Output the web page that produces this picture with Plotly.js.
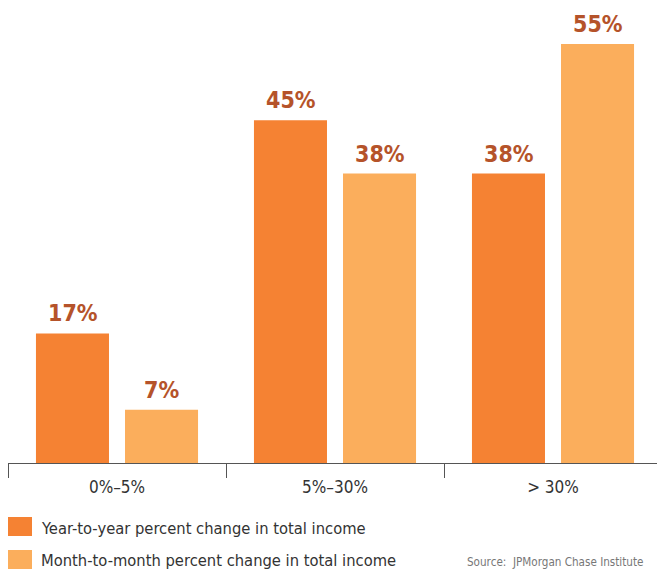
<!DOCTYPE html>
<html>
<head>
<meta charset="utf-8">
<script src="https://cdn.plot.ly/plotly-3.0.1.min.js"></script>
<style>html,body{margin:0;padding:0;background:#fff;}#chart{width:657px;height:571px;}</style>
</head>
<body>
<div id="chart"></div>
<script>
const categories = ["0%\u20135%", "5%\u201330%", "> 30%"];
const seriesNames = ["Year-to-year percent change in total income", "Month-to-month percent change in total income"];
const yearToYear = [17, 45, 38];
const monthToMonth = [7, 38, 55];
const sourceText = "Source:  JPMorgan Chase Institute";

const colors = ["#f58233", "#fbae5c"];
const labelColor = "#b5532a";
const FONT = "DejaVu Sans Condensed, Liberation Sans Narrow, sans-serif";
const W = 657, H = 571;
const M = {l: 8, r: 0, t: 0, b: 108};
const pw = W - M.l - M.r, ph = H - M.t - M.b;
const px = x => (x - M.l) / pw;
const py = y => (H - M.b - y) / ph;
const unitPx = 218;
const yScale = 7.618;

const series = [yearToYear, monthToMonth];
const traces = series.map((vals, i) => ({
  type: "bar", x: categories, y: vals, name: seriesNames[i],
  marker: {color: colors[i], line: {width: 0}}, hoverinfo: "none"
}));

const annotations = [];
series.forEach((vals, i) => {
  vals.forEach((v, j) => {
    annotations.push({
      x: categories[j], y: v, xref: "x", yref: "y",
      xshift: (i === 0 ? -1 : 1) * 44.5, yshift: 5,
      yanchor: "bottom", showarrow: false,
      text: "<b>" + v + "%</b>",
      font: {family: FONT, size: 23, color: labelColor}
    });
  });
});

const shapes = [];
const legendBox = [[517, 536], [550, 569]];
const legendMid = [528.5, 560];
seriesNames.forEach((n, i) => {
  shapes.push({type: "rect", xref: "paper", yref: "paper",
    x0: px(8), x1: px(32), y0: py(legendBox[i][1]), y1: py(legendBox[i][0]),
    fillcolor: colors[i], line: {width: 0}});
  annotations.push({xref: "paper", yref: "paper", x: px(39), y: py(legendMid[i]),
    xanchor: "left", yanchor: "middle", showarrow: false, text: n,
    font: {family: FONT, size: 16.4, color: "#333"}});
});
annotations.push({xref: "paper", yref: "paper", x: px(645), y: py(562),
  xanchor: "right", yanchor: "middle", showarrow: false, text: sourceText,
  font: {family: FONT, size: 11.6, color: "#777"}});

const layout = {
  width: W, height: H, margin: M,
  paper_bgcolor: "#fff", plot_bgcolor: "#fff",
  showlegend: false, barmode: "group", bargap: 0.183, bargroupgap: 0.18,
  xaxis: {type: "category", range: [-0.5, -0.5 + pw / unitPx], showline: true, linecolor: "#555", linewidth: 1,
    ticks: "outside", ticklen: 14, tickcolor: "#555", tickwidth: 1, tickson: "boundaries",
    ticklabelstandoff: 9,
    showgrid: false, zeroline: false, fixedrange: true,
    tickfont: {family: FONT, size: 17, color: "#333"}},
  yaxis: {range: [0, ph / yScale], visible: false, showgrid: false, zeroline: false, fixedrange: true},
  annotations: annotations, shapes: shapes
};
Plotly.newPlot("chart", traces, layout, {displayModeBar: false, staticPlot: true});
</script>
</body>
</html>
